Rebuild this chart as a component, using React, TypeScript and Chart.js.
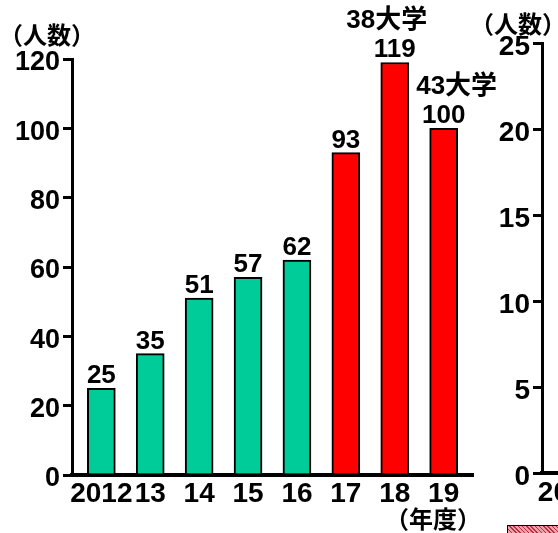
import React, { useEffect, useRef } from "react";
import { Chart, registerables } from "chart.js";

Chart.register(...registerables);

// Main panel: students per fiscal year
const years = ["2012", "13", "14", "15", "16", "17", "18", "19"];
const students = [25, 35, 51, 57, 62, 93, 119, 100];
const universities = ["", "", "", "", "", "", "38大学", "43大学"];
const barColors = [
  "#00CC99", "#00CC99", "#00CC99", "#00CC99", "#00CC99",
  "#FF0000", "#FF0000", "#FF0000",
];
const countTicks = [0, 20, 40, 60, 80, 100, 120];

// Neighbouring panel (only its axis edge is in frame)
const sideYears = ["2012", "13", "14", "15", "16", "17", "18", "19"];
const sideTicks = [0, 5, 10, 15, 20, 25];

const LATIN = "'Liberation Sans', Arial, 'Noto Sans CJK JP', sans-serif";
const CJK = "'Noto Sans CJK JP', 'Liberation Sans', sans-serif";

type Caption = { text: string; x: number; y: number; align: CanvasTextAlign; size: number };

const captionPlugin = {
  id: "captions",
  afterDraw(chart: any, _args: any, opts: any) {
    const ctx: CanvasRenderingContext2D = chart.ctx;
    ctx.save();
    ctx.fillStyle = "#000";
    ctx.textBaseline = "middle";
    ((opts && opts.items) || []).forEach((c: Caption) => {
      ctx.font = `bold ${c.size}px ${CJK}`;
      ctx.textAlign = c.align;
      ctx.fillText(c.text, c.x, c.y);
    });
    ctx.restore();
  },
};

// Value labels on top of each bar, with the university count stacked above
const noteShift = [0, 0, 0, 0, 0, 0, -8, 13];
const barLabelPlugin = {
  id: "barLabels",
  afterDatasetsDraw(chart: any) {
    const ctx: CanvasRenderingContext2D = chart.ctx;
    const meta = chart.getDatasetMeta(0);
    ctx.save();
    ctx.fillStyle = "#000";
    ctx.font = `bold 26px ${LATIN}`;
    ctx.textAlign = "center";
    ctx.textBaseline = "alphabetic";
    meta.data.forEach((bar: any, i: number) => {
      ctx.fillText(String(students[i]), bar.x, bar.y - 5);
      if (universities[i]) {
        ctx.fillText(universities[i], bar.x + noteShift[i], bar.y - 34);
      }
    });
    ctx.restore();
  },
};

const axisFont = (size: number) => ({ family: LATIN, size, weight: "bold" as const });

export default function App() {
  const mainRef = useRef<HTMLCanvasElement>(null);
  const sideRef = useRef<HTMLCanvasElement>(null);

  useEffect(() => {
    Chart.defaults.color = "#000";

    const main = new Chart(mainRef.current!, {
      type: "bar",
      data: {
        datasets: [
          {
            data: students.map((v, i) => ({ x: i, y: v })),
            backgroundColor: barColors,
            borderColor: "#000",
            borderWidth: 2,
            borderSkipped: "bottom",
            barThickness: 28,
          },
        ],
      },
      options: {
        animation: false,
        responsive: false,
        layout: { padding: { top: 59, right: 27, left: 0, bottom: 0 } },
        plugins: {
          legend: { display: false },
          tooltip: { enabled: false },
          captions: {
            items: [
              { text: "（人数）", x: -1, y: 35, align: "left", size: 24 },
              { text: "（年度）", x: 481, y: 519, align: "right", size: 24 },
            ],
          },
        } as any,
        scales: {
          x: {
            type: "linear",
            offset: false,
            min: -0.6,
            max: 7.6,
            afterBuildTicks: (ax: any) => {
              ax.ticks = years.map((_, i) => ({ value: i }));
            },
            afterFit: (s: any) => {
              s.height = 58;
            },
            grid: { display: false, drawTicks: false, offset: false },
            border: { display: true, color: "#000", width: 4 },
            ticks: {
              callback: (v: any) => years[v] ?? "",
              font: axisFont(28),
              padding: 2,
              maxRotation: 0,
              autoSkip: false,
              color: "#000",
            },
          },
          y: {
            min: 0,
            max: 120,
            afterBuildTicks: (ax: any) => {
              ax.ticks = countTicks.map((v) => ({ value: v }));
            },
            afterFit: (s: any) => {
              s.width = 72;
            },
            grid: {
              display: true,
              drawOnChartArea: false,
              drawTicks: true,
              tickLength: 9,
              lineWidth: 3,
              color: "#000",
            },
            border: { display: true, color: "#000", width: 3 },
            ticks: { font: axisFont(27), padding: 3, labelOffset: 4, color: "#000" },
          },
        },
      },
      plugins: [barLabelPlugin, captionPlugin],
    });

    const side = new Chart(sideRef.current!, {
      type: "bar",
      data: { labels: sideYears, datasets: [] },
      options: {
        animation: false,
        responsive: false,
        layout: { padding: { top: 43, right: 20, left: 0, bottom: 0 } },
        plugins: {
          legend: { display: false },
          tooltip: { enabled: false },
          captions: {
            items: [{ text: "（人数）", x: 0, y: 24, align: "left", size: 24 }],
          },
        } as any,
        scales: {
          x: {
            type: "category",
            offset: true,
            afterFit: (s: any) => {
              s.height = 60;
            },
            grid: { display: false, drawTicks: false },
            border: { display: true, color: "#000", width: 4 },
            ticks: { font: axisFont(28), padding: 3, maxRotation: 0, autoSkip: false, color: "#000" },
          },
          y: {
            min: 0,
            max: 25,
            afterBuildTicks: (ax: any) => {
              ax.ticks = sideTicks.map((v) => ({ value: v }));
            },
            afterFit: (s: any) => {
              s.width = 72;
            },
            grid: {
              display: true,
              drawOnChartArea: false,
              drawTicks: true,
              tickLength: 9,
              lineWidth: 3,
              color: "#000",
            },
            border: { display: true, color: "#000", width: 3 },
            ticks: { font: axisFont(28), padding: 3, labelOffset: 4, color: "#000" },
          },
        },
      },
      plugins: [captionPlugin],
    });

    return () => {
      main.destroy();
      side.destroy();
    };
  }, []);

  return (
    <div
      style={{
        position: "absolute",
        left: 0,
        top: 0,
        width: 558,
        height: 533,
        overflow: "hidden",
        background: "#fff",
      }}
    >
      <canvas
        ref={mainRef}
        width={500}
        height={533}
        style={{ position: "absolute", left: 0, top: 0, width: 500, height: 533 }}
      />
      <canvas
        ref={sideRef}
        width={524}
        height={533}
        style={{ position: "absolute", left: 470, top: 0, width: 524, height: 533 }}
      />
      <div
        style={{
          position: "absolute",
          left: 507,
          top: 525,
          width: 60,
          height: 14,
          boxSizing: "border-box",
          border: "1px solid #000",
          background:
            "repeating-linear-gradient(45deg, #b8303f 0px, #b8303f 1px, #eea0aa 1px, #eea0aa 3px)",
        }}
      />
    </div>
  );
}
